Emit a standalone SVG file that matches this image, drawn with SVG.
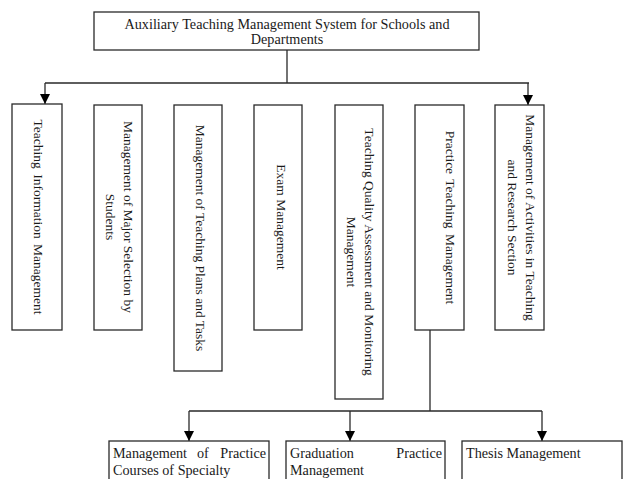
<svg xmlns="http://www.w3.org/2000/svg" width="625" height="479" viewBox="0 0 625 479">
<style>
.box{fill:#fff;stroke:#2a2a2a;stroke-width:1.3}
.t{font-family:"Liberation Serif","Times New Roman",serif;fill:#1a1a1a}
.h{font-size:14.2px}
.v{font-size:13.5px}
.c{stroke:#2a2a2a;stroke-width:1.3;fill:none}
</style>
<defs>
<marker id="ah" markerUnits="userSpaceOnUse" markerWidth="10" markerHeight="10" refX="10" refY="5" orient="auto">
<path d="M0,0 L10,5 L0,10 z" fill="#000"/>
</marker>
</defs>
<rect width="625" height="479" fill="#fff"/>
<g id="connectors">
<path class="c" d="M287,50 V83 M45,83 H529"/>
<path class="c" d="M45,83 V104" marker-end="url(#ah)"/>
<path class="c" d="M528,83 V105" marker-end="url(#ah)"/>
<path class="c" d="M430,330 V411 M189,411 H542"/>
<path class="c" d="M189,411 V441" marker-end="url(#ah)"/>
<path class="c" d="M350,411 V441" marker-end="url(#ah)"/>
<path class="c" d="M542,411 V441" marker-end="url(#ah)"/>
</g>
<g id="root">
<rect class="box" x="94" y="12" width="385" height="38"/>
<text class="t h" x="287" y="28.5" text-anchor="middle">Auxiliary Teaching Management System for Schools and</text>
<text class="t h" x="287" y="43.5" text-anchor="middle">Departments</text>
</g>
<g id="n1">
<rect class="box" x="12" y="104" width="50" height="226"/>
<text class="t v" transform="translate(34,217) rotate(90)" text-anchor="middle" word-spacing="2">Teaching Information Management</text>
</g>
<g id="n2">
<rect class="box" x="94" y="105" width="48" height="225"/>
<text class="t v" transform="translate(124,217) rotate(90)" text-anchor="middle"><tspan x="0" y="0">Management of Major Selection by</tspan><tspan x="0" y="18">Students</tspan></text>
</g>
<g id="n3">
<rect class="box" x="174" y="105" width="48" height="266"/>
<text class="t v" transform="translate(196,238) rotate(90)" text-anchor="middle">Management of Teaching Plans and Tasks</text>
</g>
<g id="n4">
<rect class="box" x="254" y="105" width="48" height="225"/>
<text class="t v" transform="translate(277,217) rotate(90)" text-anchor="middle">Exam Management</text>
</g>
<g id="n5">
<rect class="box" x="335" y="105" width="48" height="294"/>
<text class="t v" transform="translate(365,252) rotate(90)" text-anchor="middle"><tspan x="0" y="0">Teaching Quality Assessment and Monitoring</tspan><tspan x="0" y="18">Management</tspan></text>
</g>
<g id="n6">
<rect class="box" x="415" y="105" width="49" height="225"/>
<text class="t v" transform="translate(446,217.5) rotate(90)" text-anchor="middle" word-spacing="2">Practice Teaching Management</text>
</g>
<g id="n7">
<rect class="box" x="495" y="105" width="49" height="225"/>
<text class="t v" transform="translate(526,217.5) rotate(90)" text-anchor="middle"><tspan x="0" y="0">Management of Activities in Teaching</tspan><tspan x="0" y="18">and Research Section</tspan></text>
</g>
<g id="c1">
<rect class="box" x="109" y="441" width="160" height="50"/>
<text class="t h" x="113" y="458">Management</text>
<text class="t h" x="197" y="458">of</text>
<text class="t h" x="266" y="458" text-anchor="end">Practice</text>
<text class="t h" x="113" y="475">Courses of Specialty</text>
</g>
<g id="c2">
<rect class="box" x="286" y="441" width="159" height="50"/>
<text class="t h" x="290" y="458">Graduation</text>
<text class="t h" x="442" y="458" text-anchor="end">Practice</text>
<text class="t h" x="290" y="475">Management</text>
</g>
<g id="c3">
<rect class="box" x="462" y="441" width="160" height="50"/>
<text class="t h" x="466" y="458">Thesis Management</text>
</g>
</svg>
